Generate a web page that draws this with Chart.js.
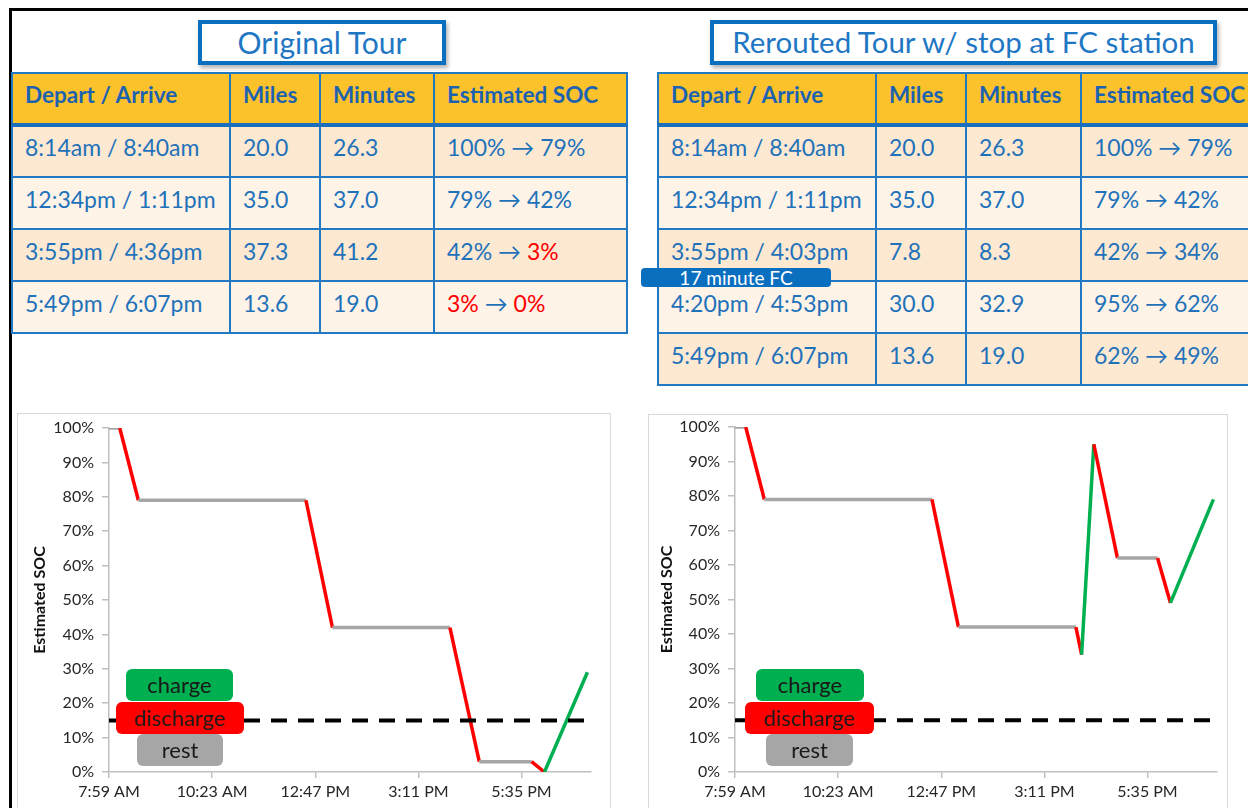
<!DOCTYPE html>
<html><head><meta charset="utf-8">
<script src="https://cdn.jsdelivr.net/npm/chart.js@4.4.1/dist/chart.umd.min.js"></script>
<style>
html,body{margin:0;padding:0;background:#fff;width:1248px;height:808px;overflow:hidden;font-family:Lato,"DejaVu Sans",sans-serif;}
#page{position:relative;width:1248px;height:808px;overflow:hidden;background:#fff;}
.btop{position:absolute;left:9px;top:8px;width:1239px;height:3px;background:#000;}
.bleft{position:absolute;left:9px;top:8px;width:3px;height:800px;background:#000;}
.titlebox{position:absolute;top:20px;height:45px;box-sizing:border-box;border:4px solid #0b6fc0;background:#fff;color:#1f77c4;font-size:30px;line-height:36px;text-align:center;box-shadow:2px 3px 4px rgba(0,0,0,0.3);white-space:nowrap;}
table.tour{position:absolute;top:72px;border-collapse:collapse;table-layout:fixed;}
table.tour td,table.tour th{border:2px solid #2079c2;padding:0 0 9px 12px;text-align:left;vertical-align:middle;white-space:nowrap;overflow:hidden;box-sizing:border-box;}
table.tour th{background:#fcc22c;color:#1c62b1;font-weight:bold;font-size:22.5px;height:52px;border-bottom:4px solid #1a6fbd;}
table.tour td{color:#1f72ba;font-size:23px;height:52px;}
table.tour tr.odd td{background:#fde9d2;}
table.tour tr.even td{background:#fef3e7;}
.red{color:#ff0000;}
.fc{position:absolute;left:641px;top:268px;width:190px;height:19px;background:#0b6fc0;border-radius:4px;color:#fff;font-size:19px;line-height:19px;text-align:center;z-index:5;}
.frame{position:absolute;border:1px solid #d9d9d9;box-sizing:border-box;background:#fff;}
canvas{position:absolute;}
.lg{position:absolute;border-radius:6px;text-align:center;font-size:22px;color:#1a1a1a;z-index:4;}
</style></head>
<body><div id="page">
<div class="btop"></div><div class="bleft"></div>
<div class="titlebox" style="left:198px;width:248px;">Original Tour</div>
<div class="titlebox" style="left:710px;width:507px;font-size:29.5px;">Rerouted Tour w/ stop at FC station</div>
<table class="tour" id="t1" style="left:11px;width:615px;"></table>
<table class="tour" id="t2" style="left:657px;width:620px;"></table>
<div class="fc">17 minute FC</div>
<div class="frame" style="left:17px;top:413px;width:594px;height:410px;"></div>
<div class="frame" style="left:648px;top:414px;width:580px;height:410px;"></div>
<canvas id="c1" width="593" height="395" style="left:17px;top:413px;"></canvas>
<canvas id="c2" width="579" height="394" style="left:648px;top:414px;"></canvas>
<div class="lg" style="left:126px;top:669px;width:107px;height:32px;line-height:32px;background:#00b050;">charge</div>
<div class="lg" style="left:116px;top:702px;width:128px;height:32px;line-height:32px;background:#ff0000;">discharge</div>
<div class="lg" style="left:137px;top:734px;width:86px;height:32px;line-height:32px;background:#a6a6a6;">rest</div>
<div class="lg" style="left:756px;top:669px;width:108px;height:32px;line-height:32px;background:#00b050;">charge</div>
<div class="lg" style="left:745px;top:702px;width:129px;height:32px;line-height:32px;background:#ff0000;">discharge</div>
<div class="lg" style="left:766px;top:734px;width:87px;height:32px;line-height:32px;background:#a6a6a6;">rest</div>
</div>
<script>
// ---- table data ----
const tableHeaders = ['Depart / Arrive', 'Miles', 'Minutes', 'Estimated SOC'];
const origDepartArrive = ['8:14am / 8:40am', '12:34pm / 1:11pm', '3:55pm / 4:36pm', '5:49pm / 6:07pm'];
const origMiles = ['20.0', '35.0', '37.3', '13.6'];
const origMinutes = ['26.3', '37.0', '41.2', '19.0'];
const origSocFrom = [100, 79, 42, 3];
const origSocTo = [79, 42, 3, 0];
const rerDepartArrive = ['8:14am / 8:40am', '12:34pm / 1:11pm', '3:55pm / 4:03pm', '4:20pm / 4:53pm', '5:49pm / 6:07pm'];
const rerMiles = ['20.0', '35.0', '7.8', '30.0', '13.6'];
const rerMinutes = ['26.3', '37.0', '8.3', '32.9', '19.0'];
const rerSocFrom = [100, 79, 42, 95, 62];
const rerSocTo = [79, 42, 34, 62, 49];
const lowSocLimit = 15; // SOC values below this are shown in red

// ---- chart data (24h clock times, SOC %) ----
const origTimes = ['7:59', '8:14', '8:40', '12:34', '13:11', '15:55', '16:36', '17:49', '18:07', '19:07'];
const origSOC   = [100, 100, 79, 79, 42, 42, 3, 3, 0, 29];
const rerTimes  = ['7:59', '8:14', '8:40', '12:34', '13:11', '15:55', '16:03', '16:20', '16:53', '17:49', '18:07', '19:07'];
const rerSOC    = [100, 100, 79, 79, 42, 42, 34, 95, 62, 62, 49, 79];
const thresholdSOC = 15;
const xAxisMin = '7:59';
const xAxisMax = '19:12';
const xTickTimes  = ['7:59', '10:23', '12:47', '15:11', '17:35'];
const xTickLabels = ['7:59 AM', '10:23 AM', '12:47 PM', '3:11 PM', '5:35 PM'];

const GREEN = '#00b050', RED = '#ff0000', GRAY = '#a6a6a6';

function socCell(v){ return v < lowSocLimit ? '<span class="red">' + v + '%</span>' : v + '%'; }
function buildTable(id, widths, da, mi, mn, sf, st){
  let h = '<colgroup>' + widths.map(w => '<col style="width:' + w + 'px">').join('') + '</colgroup>';
  h += '<tr>' + tableHeaders.map(t => '<th>' + t + '</th>').join('') + '</tr>';
  da.forEach((d, i) => {
    h += '<tr class="' + (i % 2 === 0 ? 'odd' : 'even') + '"><td>' + d + '</td><td>' + mi[i] + '</td><td>' + mn[i] + '</td><td>' +
      socCell(sf[i]) + ' \u2192 ' + socCell(st[i]) + '</td></tr>';
  });
  document.getElementById(id).innerHTML = h;
}
buildTable('t1', [218, 90, 114, 193], origDepartArrive, origMiles, origMinutes, origSocFrom, origSocTo);
buildTable('t2', [218, 90, 115, 197], rerDepartArrive, rerMiles, rerMinutes, rerSocFrom, rerSocTo);

const clock = s => { const p = s.split(':').map(Number); return p[0] * 60 + p[1]; };

function makeChart(id, times, soc, pad, yWidth, titlePad){
  const tickFont = {family: 'Lato', size: 16};
  new Chart(document.getElementById(id), {
    type: 'line',
    data: {datasets: [
      {label: 'threshold', data: [{x: clock(xAxisMin), y: thresholdSOC}, {x: clock(xAxisMax), y: thresholdSOC}],
       borderColor: '#000', borderDash: [16, 11], borderWidth: 4, pointRadius: 0, order: 0},
      {label: 'Estimated SOC', data: times.map((t, i) => ({x: clock(t), y: soc[i]})),
       borderColor: GRAY, borderWidth: 3.5, pointRadius: 0, order: 1,
       segment: {borderColor: c => c.p1.parsed.y > c.p0.parsed.y ? GREEN : (c.p1.parsed.y < c.p0.parsed.y ? RED : GRAY)}}
    ]},
    options: {
      responsive: false, animation: false,
      layout: {padding: pad},
      plugins: {legend: {display: false}, tooltip: {enabled: false}},
      scales: {
        x: {type: 'linear', min: clock(xAxisMin), max: clock(xAxisMax),
            afterBuildTicks: s => { s.ticks = xTickTimes.map(t => ({value: clock(t)})); },
            afterFit: s => { s.height = 36; s.paddingLeft = 0; s.paddingRight = 0; },
            ticks: {autoSkip: false, maxRotation: 0, padding: 4, color: '#262626', font: tickFont,
                    callback: (v, i) => xTickLabels[i]},
            grid: {drawOnChartArea: false, tickLength: 6, color: '#bfbfbf', lineWidth: 1.5},
            border: {color: '#bfbfbf', width: 1.5}},
        y: {min: 0, max: 100,
            afterFit: s => { s.width = yWidth; s.paddingTop = 0; s.paddingBottom = 0; },
            ticks: {stepSize: 10, padding: 8, color: '#262626', font: tickFont, callback: v => v + '%'},
            grid: {drawOnChartArea: false, tickLength: 7, color: '#bfbfbf', lineWidth: 1.5},
            border: {color: '#bfbfbf', width: 1.5},
            title: {display: true, text: 'Estimated SOC', color: '#111', font: {family: 'Lato', size: 16, weight: 'bold'},
                    padding: {top: titlePad, bottom: 0}}}
      }
    }
  });
}
makeChart('c1', origTimes, origSOC, {top: 15, right: 19, left: 0, bottom: 0}, 92, 13);
makeChart('c2', rerTimes, rerSOC, {top: 13, right: 10, left: 0, bottom: 0}, 87, 9);
</script>
</body></html>
